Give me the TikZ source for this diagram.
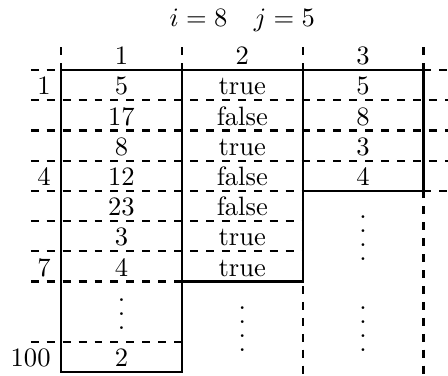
\documentclass[tikz,border=0pt]{standalone}
\begin{document}
\begin{tikzpicture}[x=0.4cm,y=0.4cm,
  solidline/.style={line width=0.8pt},
  dashline/.style={dashed,line width=0.8pt},
  cell/.style={anchor=base,inner sep=0pt},
  rowlab/.style={anchor=base east,inner sep=0pt},
  dotstack/.style={inner sep=0pt}]
\useasboundingbox (-2.02,2.32) rectangle (12.81,-10.1);
% title
\node[cell] (title) at (6,1.44) {$i=8 \quad j=5$};
% headers
\node[cell] (h1) at (2,0.18) {1};
\node[cell] (h2) at (6,0.18) {2};
\node[cell] (h3) at (10,0.18) {3};
% dashed horizontal lines
\draw[dashline] (-1,0) -- (0,0);
\draw[dashline] (12,0) -- (13,0);
\foreach \r in {1,2,3} \draw[dashline] (-1,-\r) -- (13,-\r);
\draw[dashline] (-1,-4) -- (8,-4);
\draw[dashline] (12,-4) -- (13,-4);
\foreach \r in {5,6} \draw[dashline] (-1,-\r) -- (8,-\r);
\draw[dashline] (-1,-7) -- (4,-7);
\draw[dashline] (-1,-9) -- (4,-9);
% dashed vertical lines
\foreach \c in {0,4} \draw[dashline] (\c,0.76) -- (\c,0);
\draw[dashline] (8,0.76) -- (8,-10.5);
\draw[dashline] (12,0.76) -- (12,-10.5);
% solid boxes
\draw[solidline] (0,0) rectangle (4,-10);
\draw[solidline] (4,0) rectangle (8,-7);
\draw[solidline] (8,0) rectangle (12,-4);
% column 1
\node[cell] (a1) at (2,-0.82) {5};
\node[cell] (a2) at (2,-1.82) {17};
\node[cell] (a3) at (2,-2.82) {8};
\node[cell] (a4) at (2,-3.82) {12};
\node[cell] (a5) at (2,-4.82) {23};
\node[cell] (a6) at (2,-5.82) {3};
\node[cell] (a7) at (2,-6.82) {4};
\node[dotstack] (ad) at (2,-8.08) {\vbox{\baselineskip=5.25pt\lineskiplimit=0pt\hbox{.}\hbox{.}\hbox{.}}};
\node[cell] (a100) at (2,-9.8) {2};
% column 2
\node[cell] (b1) at (6,-0.82) {true};
\node[cell] (b2) at (6,-1.82) {false};
\node[cell] (b3) at (6,-2.82) {true};
\node[cell] (b4) at (6,-3.82) {false};
\node[cell] (b5) at (6,-4.82) {false};
\node[cell] (b6) at (6,-5.82) {true};
\node[cell] (b7) at (6,-6.82) {true};
\node[dotstack] (bd) at (6,-8.58) {\vbox{\baselineskip=5.25pt\lineskiplimit=0pt\hbox{.}\hbox{.}\hbox{.}\hbox{.}}};
% column 3
\node[cell] (c1) at (10,-0.82) {5};
\node[cell] (c2) at (10,-1.82) {8};
\node[cell] (c3) at (10,-2.82) {3};
\node[cell] (c4) at (10,-3.82) {4};
\node[dotstack] (cd1) at (10,-5.55) {\vbox{\baselineskip=5.25pt\lineskiplimit=0pt\hbox{.}\hbox{.}\hbox{.}\hbox{.}}};
\node[dotstack] (cd2) at (10,-8.58) {\vbox{\baselineskip=5.25pt\lineskiplimit=0pt\hbox{.}\hbox{.}\hbox{.}\hbox{.}}};
% row labels
\node[rowlab] (r1) at (-0.33,-0.82) {1};
\node[rowlab] (r4) at (-0.33,-3.82) {4};
\node[rowlab] (r7) at (-0.33,-6.82) {7};
\node[rowlab] (r100) at (-0.33,-9.8) {100};
\end{tikzpicture}
\end{document}
